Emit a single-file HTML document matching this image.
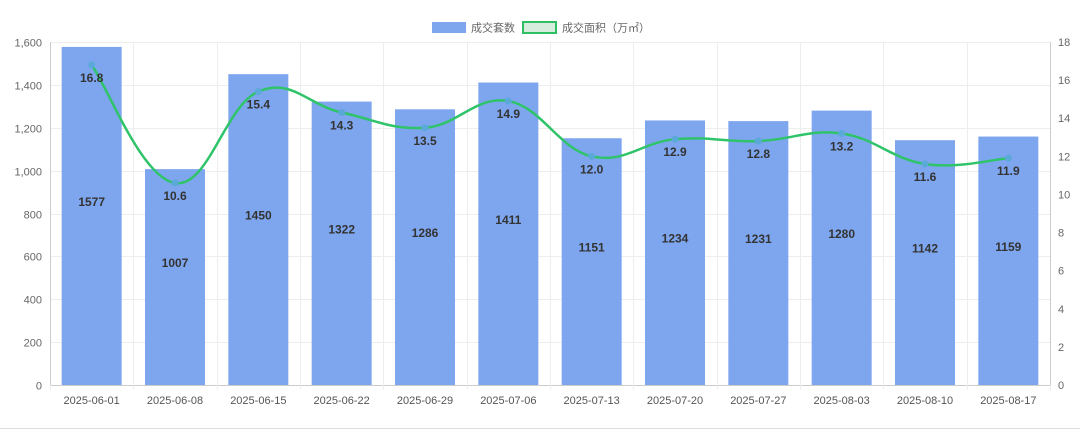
<!DOCTYPE html>
<html><head><meta charset="utf-8"><style>
body{margin:0;background:#fff;font-family:"Liberation Sans","Noto Sans CJK SC",sans-serif}
svg text{font-family:"Liberation Sans","Noto Sans CJK SC",sans-serif}
</style></head><body>
<svg id="chart" width="1080" height="430" xmlns="http://www.w3.org/2000/svg">
<g>
<rect x="432" y="22" width="34" height="11" fill="#7ea6ee"/>
<text x="471" y="31.5" font-size="11" fill="#666">成交套数</text>
<rect x="523" y="22" width="33" height="11" fill="#d6ecdc" stroke="#2fbf62" stroke-width="2"/>
<text x="562" y="31.5" font-size="11" fill="#666">成交面积（万㎡）</text>
</g>
<line x1="0" y1="428.5" x2="1080" y2="428.5" stroke="#ddd"/>
</svg>
<script>
const categories=["2025-06-01","2025-06-08","2025-06-15","2025-06-22","2025-06-29","2025-07-06","2025-07-13","2025-07-20","2025-07-27","2025-08-03","2025-08-10","2025-08-17"];
const units=[1577,1007,1450,1322,1286,1411,1151,1234,1231,1280,1142,1159];
const area=[16.8,10.6,15.4,14.3,13.5,14.9,12.0,12.9,12.8,13.2,11.6,11.9];
const leftTicks=[0,200,400,600,800,1000,1200,1400,1600];
const rightTicks=[0,2,4,6,8,10,12,14,16,18];
const svg=document.getElementById('chart');
const NS='http://www.w3.org/2000/svg';
const L=50,R=1050,T=42,B=385;
const yL=v=>B-(v/1600)*(B-T);
const yR=v=>B-(v/18)*(B-T);
const bw=(R-L)/categories.length;
const xC=i=>L+bw*(i+0.5);
function mk(tag,attrs,name,txt){const e=document.createElementNS(NS,tag);for(const k in attrs)e.setAttribute(k,attrs[k]);


if(txt!==undefined)e.textContent=txt;svg.appendChild(e);return e;}
leftTicks.forEach(v=>{const y=Math.round(yL(v))+0.5;
mk('line',{x1:L,x2:R,y1:y,y2:y,stroke:v===0?'#ccc':'#eee'},'grid-line');
mk('text',{x:L-8,y:y+4,'text-anchor':'end','font-size':11,fill:'#666'},'y-left-tick-label',v.toLocaleString('en-US'));});
rightTicks.forEach(v=>{const y=yR(v);
mk('text',{x:R+8,y:y+4,'font-size':11,fill:'#666'},'y-right-tick-label',String(v));});
for(let i=0;i<=categories.length;i++){const x=Math.round(L+bw*i)+0.5;mk('line',{x1:x,x2:x,y1:T,y2:B+5,stroke:'#eee'},'grid-line-vertical');}
mk('line',{x1:L+0.5,x2:L+0.5,y1:T,y2:B,stroke:'#ccc'},'y-left-axis');
mk('line',{x1:R+0.5,x2:R+0.5,y1:T,y2:B,stroke:'#ccc'},'y-right-axis');
categories.forEach((c,i)=>{mk('text',{x:xC(i),y:404,'text-anchor':'middle','font-size':11,fill:'#555'},'x-tick-label',c);});
units.forEach((v,i)=>{const w=bw*0.72,top=yL(v);
const r=mk('rect',{x:xC(i)-w/2,y:top,width:w,height:B-top,fill:'#7ea6ee'},'bar-'+categories[i]);

mk('text',{x:xC(i),y:(top+B)/2-10,'text-anchor':'middle','font-size':12,'font-weight':'bold',fill:'#333'},'bar-value-label',String(v));});
const pts=area.map((v,i)=>[xC(i),yR(v)]);
let d='M'+pts[0][0]+','+pts[0][1];
for(let i=0;i<pts.length-1;i++){const p0=pts[Math.max(i-1,0)],p1=pts[i],p2=pts[i+1],p3=pts[Math.min(i+2,pts.length-1)];const t=0.4/2;
d+=` C${p1[0]+(p2[0]-p0[0])*t},${p1[1]+(p2[1]-p0[1])*t} ${p2[0]-(p3[0]-p1[0])*t},${p2[1]-(p3[1]-p1[1])*t} ${p2[0]},${p2[1]}`;}
mk('path',{d:d,fill:'none',stroke:'#2fc36a','stroke-width':2.5},'area-line');
pts.forEach((p,i)=>{const c=mk('circle',{cx:p[0],cy:p[1],r:3.5,fill:'#5aa9d8'},'area-point');

mk('text',{x:p[0],y:p[1]+17,'text-anchor':'middle','font-size':12,'font-weight':'bold',fill:'#333'},'area-value-label',area[i].toFixed(1));});
</script>
</body></html>
